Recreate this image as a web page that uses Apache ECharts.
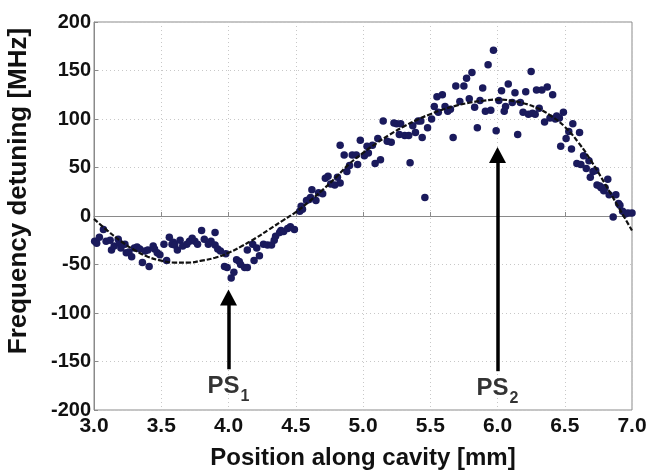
<!DOCTYPE html>
<html><head><meta charset="utf-8">
<script src="https://cdn.jsdelivr.net/npm/echarts@6/dist/echarts.min.js"></script>
<style>html,body{margin:0;padding:0;background:#fff}#c{width:651px;height:475px}</style>
</head><body><div id="c"></div>
<script>
// Measured detuning points: position [mm], detuning [MHz]
const measX = [3.005,3.02,3.04,3.07,3.09,3.12,3.13,3.15,3.18,3.19,3.20,3.23,3.24,3.26,3.28,3.30,3.32,3.34,3.36,3.38,3.40,3.41,3.44,3.45,3.47,3.49,3.52,3.54,3.56,3.58,3.59,3.60,3.62,3.64,3.66,3.69,3.71,3.73,3.75,3.77,3.80,3.82,3.85,3.87,3.90,3.90,3.92,3.94,3.97,3.98,3.99,4.02,4.04,4.06,4.08,4.09,4.12,4.14,4.14,4.18,4.19,4.21,4.23,4.26,4.29,4.32,4.34,4.35,4.38,4.39,4.41,4.44,4.46,4.49,4.53,4.54,4.55,4.58,4.60,4.61,4.62,4.65,4.67,4.70,4.72,4.74,4.76,4.79,4.81,4.83,4.83,4.86,4.88,4.90,4.92,4.95,4.96,4.98,5.01,5.03,5.04,5.07,5.09,5.11,5.13,5.15,5.18,5.21,5.23,5.25,5.27,5.28,5.31,5.34,5.35,5.37,5.39,5.41,5.43,5.44,5.46,5.48,5.51,5.53,5.55,5.56,5.59,5.61,5.63,5.65,5.67,5.69,5.72,5.75,5.77,5.79,5.81,5.83,5.85,5.87,5.89,5.91,5.93,5.95,5.97,5.99,6.01,6.03,6.05,6.06,6.08,6.11,6.13,6.15,6.17,6.19,6.21,6.23,6.25,6.26,6.28,6.29,6.31,6.33,6.35,6.37,6.39,6.41,6.43,6.44,6.46,6.47,6.49,6.51,6.53,6.55,6.56,6.59,6.61,6.62,6.64,6.66,6.68,6.69,6.71,6.73,6.74,6.76,6.77,6.79,6.80,6.82,6.83,6.86,6.88,6.90,6.91,6.93,6.95,6.97,7.00];
const measY = [-26,-28,-22,-14,-26,-25,-35,-31,-24,-28,-33,-29,-38,-37,-42,-33,-32,-34,-48,-36,-35,-52,-31,-34,-38,-40,-29,-46,-22,-29,-27,-30,-35,-25,-31,-29,-26,-23,-26,-29,-15,-24,-29,-26,-17,-30,-34,-36,-52,-39,-53,-64,-58,-45,-47,-50,-53,-53,-35,-29,-46,-33,-41,-29,-30,-30,-25,-21,-17,-15,-16,-13,-11,-14,5,10,7,16,17,19,27,16,24,23,39,41,33,32,40,34,73,63,46,52,63,63,53,78,62,72,65,73,54,80,58,98,77,76,96,95,84,95,83,83,55,93,86,98,98,81,19,91,100,113,123,107,125,113,108,110,81,134,118,134,142,121,148,112,91,119,132,108,156,109,171,88,119,129,108,113,136,117,127,84,117,107,128,105,149,106,105,130,111,130,97,133,101,125,100,103,101,72,107,80,87,69,95,54,86,53,62,49,57,40,46,47,32,31,29,26,29,38,22,-1,22,13,11,5,2,3,3];
// Fitted curve (dashed)
const fitX = [3.0,3.1,3.2,3.3,3.4,3.5,3.6,3.7,3.8,3.9,4.0,4.1,4.2,4.3,4.4,4.5,4.6,4.7,4.8,4.9,5.0,5.1,5.2,5.3,5.4,5.5,5.6,5.7,5.8,5.9,6.0,6.1,6.2,6.3,6.4,6.5,6.6,6.7,6.8,6.9,7.0];
const fitY = [-3,-15,-26,-35,-42,-46,-48,-48,-46,-43,-38,-31,-23,-14,-5,4,15,27,40,54,65,75,84,92,99,105,110,114,117,119,120,119,116,111,103,92,76,56,33,9,-15];
// Tick values
const xTicks = [3.0,3.5,4.0,4.5,5.0,5.5,6.0,6.5,7.0];
const yTicks = [-200,-150,-100,-50,0,50,100,150,200];
// Annotations (phase shifts)
const psX = [4.0, 6.0];
const psArrowFrom = [-158, -160];
const psArrowTo = [-84, 63];
const psLabelY = [-176, -178];
const psSub = ['1','2'];

const FONT = 'Liberation Sans, Arial, Helvetica, sans-serif';
const chart = echarts.init(document.getElementById('c'), null, {renderer:'canvas'});
const meas = measX.map((x,i)=>[x, measY[i]]);
const fit = fitX.map((x,i)=>[x, fitY[i]]);
const shafts = psX.map((x,i)=>[{coord:[x, psArrowFrom[i]]},{coord:[x, psArrowTo[i]]}]);
const heads = psX.map((x,i)=>[x, psArrowTo[i]]);
const labels = psX.map((x,i)=>({value:[x, psLabelY[i]], sub: psSub[i]}));

chart.setOption({
  animation:false,
  backgroundColor:'#fff',
  grid:{left:94, right:19, top:22, bottom:65, show:true, borderColor:'#8a8a8a', borderWidth:1,
    containLabel:false, outerBoundsMode:'none'},
  xAxis:{
    type:'value', min:3.0, max:7.0, interval:0.5,
    name:'Position along cavity [mm]', nameLocation:'middle', nameGap:36,
    nameTextStyle:{fontFamily:FONT, fontWeight:'bold', fontSize:24, color:'#111'},
    axisLine:{show:true, lineStyle:{color:'#8a8a8a', width:1}},
    axisTick:{show:true, inside:true, length:4, lineStyle:{color:'#8a8a8a'}},
    axisLabel:{fontFamily:FONT, fontWeight:'bold', fontSize:21, color:'#111', margin:6,
      formatter:v=>v.toFixed(1)},
    splitLine:{show:true, lineStyle:{color:'#c8c8c8', type:[1,3], width:1}}
  },
  yAxis:{
    type:'value', min:-200, max:200, interval:50,
    name:'Frequency detuning [MHz]', nameLocation:'middle', nameGap:62,
    nameTextStyle:{fontFamily:FONT, fontWeight:'bold', fontSize:26, color:'#111', padding:[0,0,0,50]},
    axisLine:{show:true, lineStyle:{color:'#8a8a8a', width:1}},
    axisTick:{show:true, inside:true, length:4, lineStyle:{color:'#8a8a8a'}},
    axisLabel:{fontFamily:FONT, fontWeight:'bold', fontSize:20, color:'#111', margin:3},
    splitLine:{show:true, lineStyle:{color:'#c8c8c8', type:[1,3], width:1}}
  },
  series:[
    {type:'scatter', data:meas, symbol:'circle', symbolSize:7.5,
      itemStyle:{color:'#1a1a5c', opacity:1}, z:3},
    {type:'line', data:fit, smooth:true, showSymbol:false, symbol:'none',
      lineStyle:{color:'#111', width:2.2, type:[5,2]}, z:4,
      markLine:{silent:true, symbol:['none','none'],
        lineStyle:{color:'#000', width:3.5, type:'solid'}, label:{show:false},
        data:shafts}},
    {type:'scatter', data:heads, symbol:'triangle', symbolSize:[17,16],
      itemStyle:{color:'#000', opacity:1}, z:6, silent:true},
    {type:'scatter', data:labels, symbolSize:0, z:5, silent:true,
      label:{show:true, position:'inside', fontFamily:FONT, color:'#000',
        formatter:p=>'{a|PS}{b|'+p.data.sub+'}',
        rich:{a:{fontSize:24, fontWeight:'bold', fontFamily:FONT, color:'#000'},
              b:{fontSize:16, fontWeight:'bold', fontFamily:FONT, color:'#000', padding:[20,0,0,1]}}}}
  ]
});
</script></body></html>
